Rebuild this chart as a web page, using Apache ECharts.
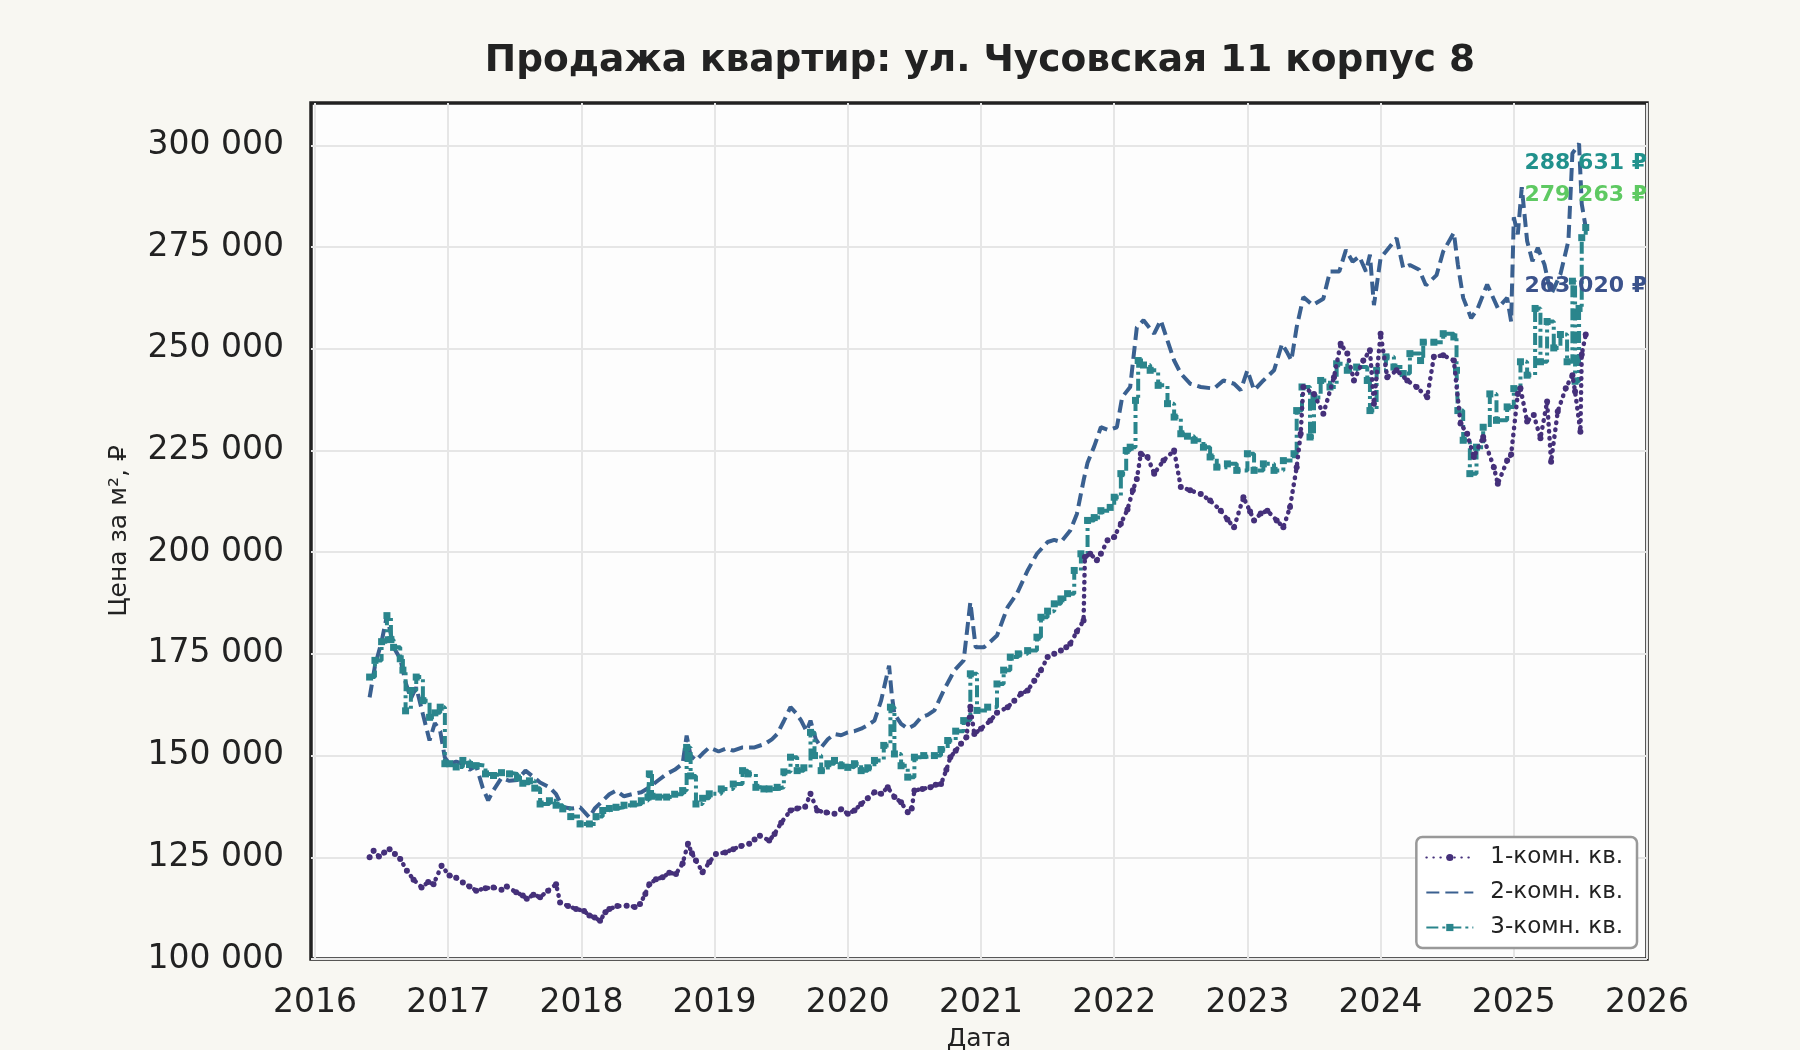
<!DOCTYPE html>
<html>
<head>
<meta charset="utf-8">
<title>Продажа квартир</title>
<script src="https://cdn.jsdelivr.net/npm/echarts@6/dist/echarts.min.js"></script>
<style>
  html, body { margin: 0; padding: 0; background: #f8f7f2; }
  #chart { width: 1800px; height: 1050px; }
</style>
</head>
<body>
<div id="chart"></div>
<script>
// x values are dates written as decimal years
var years1 = [2016.41,2016.44,2016.48,2016.52,2016.56,2016.60,2016.64,2016.69,2016.74,2016.80,2016.85,2016.89,2016.95,
  2017.01,2017.06,2017.11,2017.16,2017.21,2017.28,2017.34,2017.40,2017.44,2017.51,2017.56,2017.59,2017.64,2017.69,2017.75,2017.81,2017.84,2017.90,2017.96,
  2018.02,2018.06,2018.10,2018.14,2018.18,2018.21,2018.27,2018.34,2018.40,2018.44,2018.48,2018.51,2018.56,2018.61,2018.66,2018.71,2018.76,2018.80,2018.83,2018.86,2018.91,2018.96,
  2019.01,2019.08,2019.14,2019.20,2019.26,2019.30,2019.34,2019.41,2019.45,2019.50,2019.57,2019.62,2019.68,2019.72,2019.77,2019.84,2019.90,2019.95,
  2020.00,2020.05,2020.10,2020.15,2020.20,2020.25,2020.30,2020.35,2020.40,2020.45,2020.48,2020.50,2020.56,2020.62,2020.66,2020.70,2020.74,2020.77,2020.81,2020.85,2020.89,2020.92,2020.95,
  2021.00,2021.07,2021.12,2021.20,2021.25,2021.30,2021.35,2021.40,2021.45,2021.50,2021.55,2021.60,2021.64,2021.67,2021.72,2021.77,2021.78,2021.82,2021.87,2021.90,2021.95,
  2022.00,2022.05,2022.10,2022.14,2022.17,2022.20,2022.25,2022.30,2022.37,2022.45,2022.50,2022.57,2022.65,2022.72,2022.80,2022.85,2022.90,2022.97,
  2023.02,2023.05,2023.10,2023.15,2023.22,2023.27,2023.32,2023.37,2023.40,2023.42,2023.50,2023.57,2023.65,2023.70,2023.75,2023.80,2023.87,2023.92,2023.95,
  2024.00,2024.05,2024.12,2024.20,2024.27,2024.35,2024.40,2024.47,2024.55,2024.60,2024.65,2024.70,2024.77,2024.85,2024.88,2024.95,2024.98,
  2025.03,2025.05,2025.10,2025.15,2025.20,2025.25,2025.28,2025.33,2025.39,2025.44,2025.46,2025.50,2025.51,2025.54];
var price1 = [125000,126600,125200,126200,127000,125800,124600,121700,119500,117600,118900,118400,122900,
  120500,120000,118800,117800,116800,117400,117600,117000,117800,116400,115600,114800,115800,115200,116800,118400,113900,113000,112300,
  111800,110700,110200,109400,111500,112300,113000,113100,112800,113500,116000,118400,119600,120100,121200,120900,123500,128300,126000,124200,121300,123800,
  125800,126200,127000,127800,128300,129400,130300,129100,130700,133500,136500,137000,137400,140600,136500,136000,135700,136800,
  135700,136500,138100,139500,141000,140600,142200,139800,138500,136100,137000,141400,141800,142200,142800,143000,146500,149600,151200,152900,154500,162000,155300,
  156600,158600,160500,161900,163500,165200,166000,168400,171000,174200,175000,175800,176600,177500,180500,183200,198800,199600,198000,199600,202900,
  203700,207000,210500,215200,218000,224200,223400,219300,222500,225000,216000,215200,214300,212700,210200,208000,206100,213500,
  210000,207800,209500,210200,207800,206100,211100,220900,229100,240600,238900,234000,243000,251200,248800,242200,247100,249600,236500,
  253700,243000,244700,242200,240600,238100,248000,248400,247100,231600,229100,223400,228300,220900,216800,222500,224000,
  238900,240300,232100,233700,228000,237000,222200,234600,240300,243500,239500,229600,248600,253500];

var years2 = [2016.41,2016.45,2016.50,2016.54,2016.59,2016.64,2016.68,2016.72,2016.76,2016.81,2016.86,2016.90,2016.94,2016.975,
  2017.01,2017.06,2017.11,2017.16,2017.21,2017.26,2017.30,2017.34,2017.40,2017.46,2017.52,2017.58,2017.63,2017.69,2017.76,2017.81,2017.86,2017.93,2017.99,
  2018.06,2018.10,2018.16,2018.21,2018.26,2018.32,2018.39,2018.45,2018.51,2018.58,2018.64,2018.70,2018.76,2018.79,2018.82,2018.86,2018.91,2018.96,
  2019.03,2019.09,2019.14,2019.21,2019.30,2019.38,2019.43,2019.47,2019.52,2019.57,2019.61,2019.65,2019.69,2019.72,2019.76,2019.80,2019.85,2019.90,2019.95,
  2020.00,2020.05,2020.10,2020.15,2020.20,2020.25,2020.31,2020.33,2020.35,2020.40,2020.45,2020.50,2020.55,2020.60,2020.65,2020.72,2020.80,2020.87,2020.92,2020.96,
  2021.02,2021.07,2021.12,2021.16,2021.20,2021.27,2021.35,2021.42,2021.50,2021.55,2021.60,2021.67,2021.72,2021.77,2021.80,2021.85,2021.90,2021.96,
  2022.02,2022.06,2022.12,2022.17,2022.22,2022.30,2022.35,2022.40,2022.45,2022.50,2022.57,2022.65,2022.75,2022.82,2022.90,2022.95,
  2023.00,2023.05,2023.12,2023.20,2023.26,2023.30,2023.33,2023.37,2023.42,2023.49,2023.57,2023.62,2023.69,2023.74,2023.79,2023.84,2023.89,2023.92,2023.95,
  2024.00,2024.04,2024.12,2024.17,2024.22,2024.29,2024.34,2024.42,2024.47,2024.55,2024.58,2024.62,2024.68,2024.73,2024.80,2024.88,2024.95,2024.98,
  2025.00,2025.03,2025.06,2025.10,2025.14,2025.18,2025.23,2025.28,2025.35,2025.41,2025.44,2025.49,2025.51,2025.54];
var price2 = [164300,172000,178000,184400,176600,173800,168000,164000,166800,160200,153700,158000,156000,149500,
  148000,148500,148000,146500,147500,142000,139000,141500,144500,143800,144000,146300,145000,143400,142200,140500,137300,137000,137300,
  134800,137000,138900,140500,141400,140000,140600,141000,142200,144000,145500,146500,148000,154900,150000,148800,150500,152000,
  151000,151800,151200,152000,152000,152900,154000,155300,158500,161900,160500,158600,156000,158600,154000,152000,154000,155300,155000,
  155700,156000,156600,157500,158600,163500,172100,165000,160200,157800,156600,157500,159400,160000,161100,166000,170900,173400,187700,176600,
  176600,178000,179500,183000,186500,189800,195500,199600,202500,203000,202500,205300,209400,217600,222000,226000,230700,230000,
  230700,238100,240600,255300,257000,253700,257000,252000,247100,243900,241400,240600,240200,242200,241400,239800,
  244700,239800,242200,244700,251200,249000,247100,255300,262700,260700,262300,269000,269000,274300,271400,272700,269000,273100,260700,
  272300,273900,277200,269800,270600,269400,265600,268100,273900,278500,270700,262500,257500,260000,265800,260000,262500,256700,
  282300,278100,289700,276500,271500,274800,270700,263300,268300,276500,298000,300400,285600,279800];

var years3 = [2016.41,2016.45,2016.50,2016.54,2016.57,2016.59,2016.64,2016.66,2016.68,2016.72,2016.76,2016.81,2016.86,2016.90,2016.94,2016.975,
  2017.01,2017.06,2017.11,2017.16,2017.21,2017.28,2017.34,2017.40,2017.46,2017.52,2017.56,2017.61,2017.65,2017.69,2017.76,2017.81,2017.86,2017.92,2017.99,
  2018.06,2018.11,2018.16,2018.21,2018.26,2018.32,2018.39,2018.45,2018.50,2018.51,2018.53,2018.58,2018.64,2018.70,2018.76,2018.79,2018.82,2018.86,2018.91,2018.96,
  2019.05,2019.14,2019.21,2019.25,2019.31,2019.37,2019.41,2019.47,2019.52,2019.57,2019.62,2019.67,2019.72,2019.75,2019.80,2019.85,2019.90,2019.95,
  2020.00,2020.05,2020.10,2020.15,2020.20,2020.27,2020.32,2020.35,2020.40,2020.45,2020.50,2020.57,2020.65,2020.70,2020.75,2020.81,2020.87,2020.92,2020.97,
  2021.05,2021.12,2021.17,2021.22,2021.28,2021.35,2021.42,2021.45,2021.50,2021.55,2021.60,2021.65,2021.70,2021.75,2021.80,2021.85,2021.90,2021.97,
  2022.00,2022.05,2022.09,2022.12,2022.16,2022.18,2022.22,2022.27,2022.33,2022.40,2022.45,2022.50,2022.55,2022.60,2022.67,2022.72,2022.77,2022.85,2022.92,
  2023.00,2023.05,2023.12,2023.20,2023.27,2023.35,2023.37,2023.41,2023.47,2023.50,2023.55,2023.62,2023.67,2023.75,2023.82,2023.90,2023.92,2023.97,
  2024.04,2024.10,2024.17,2024.22,2024.30,2024.32,2024.40,2024.47,2024.55,2024.57,2024.58,2024.62,2024.67,2024.72,2024.77,2024.82,2024.87,2024.95,
  2025.00,2025.05,2025.10,2025.16,2025.20,2025.25,2025.30,2025.35,2025.40,2025.44,2025.46,2025.49,2025.51,2025.54];
var price3 = [169300,173400,178000,184400,178500,176600,173800,171000,161000,166000,169300,163500,159400,160500,161900,148000,
  148000,147200,148800,147800,147500,145500,145100,145800,145500,144500,143200,143800,142000,138100,138900,137800,136900,135000,133200,
  133200,135000,136500,137000,137300,137800,138100,138900,139800,145500,140000,139800,139800,140500,141400,152000,145000,138100,139500,140600,
  141800,143000,146300,145500,142200,141800,141800,142200,146000,149600,146300,147000,155700,150000,146300,148000,148800,147500,
  147100,148000,146300,147000,148800,152500,161900,150400,147500,144700,149600,150000,150000,151500,153700,156000,158600,170100,161100,
  161900,167600,171000,174200,175000,175800,179100,184000,185500,187300,188500,189800,195500,199600,207800,208500,210200,211000,
  213500,219300,225000,225800,237300,247100,246000,244700,241000,236500,233200,229100,228500,227500,225800,223400,220900,221700,220100,
  224200,220100,221700,220100,222500,224200,234800,240600,228300,238000,242200,240600,246300,244700,245500,242200,234800,244700,
  248000,245500,243900,248800,247100,251600,251600,253700,252900,244700,234800,227500,219300,225800,230700,238900,232400,235700,
  240200,246800,243500,259900,246800,256700,250200,253500,246800,266600,242000,259900,277300,279800];

var seriesNames = ['1-комн. кв.', '2-комн. кв.', '3-комн. кв.'];
var lastLabels = [263020, 288631, 279263];
var yearTicks = [2016, 2017, 2018, 2019, 2020, 2021, 2022, 2023, 2024, 2025, 2026];
var priceTicks = [100000, 125000, 150000, 175000, 200000, 225000, 250000, 275000, 300000];

function fmt(v) {
  return String(Math.round(v)).replace(/\B(?=(\d{3})+(?!\d))/g, ' ');
}
function pairs(xs, ys) {
  return xs.map(function (x, i) { return [x, ys[i]]; });
}
function lastMark(xs, value, color, dy) {
  return {
    symbol: 'circle',
    symbolSize: 0,
    silent: true,
    data: [{ coord: [xs[xs.length - 1], value], value: value }],
    label: {
      show: true,
      position: 'inside',
      offset: [0, dy],
      formatter: function (p) { return fmt(p.value) + ' ₽'; },
      color: color,
      fontSize: 22,
      fontWeight: 'bold',
      fontFamily: 'DejaVu Sans'
    }
  };
}

var chart = echarts.init(document.getElementById('chart'), null, { renderer: 'canvas' });

var option = {
  backgroundColor: '#f8f7f2',
  animation: false,
  textStyle: { fontFamily: 'DejaVu Sans', color: '#222' },
  title: {
    text: 'Продажа квартир: ул. Чусовская 11 корпус 8',
    left: 975,
    top: 37,
    textAlign: 'center',
    textStyle: { fontSize: 37.5, fontWeight: 'bold', color: '#222', fontFamily: 'DejaVu Sans' }
  },
  grid: {
    left: 311, right: 153, top: 103, bottom: 91,
    outerBoundsMode: 'none',
    containLabel: false,
    show: true,
    backgroundColor: '#fdfdfd',
    borderColor: '#222',
    borderWidth: 3.5
  },
  legend: {
    orient: 'vertical',
    right: 163,
    bottom: 102,
    padding: [9, 14, 9, 9],
    itemWidth: 47,
    itemHeight: 9,
    itemGap: 12,
    backgroundColor: '#ffffff',
    borderColor: '#999',
    borderWidth: 2.5,
    borderRadius: 6,
    textStyle: { fontSize: 23, color: '#222', padding: [0, 0, 0, 12] },
    data: [
      { name: seriesNames[0] },
      { name: seriesNames[1], itemStyle: { opacity: 0 } },
      { name: seriesNames[2] }
    ]
  },
  xAxis: {
    type: 'value',
    min: 2015.97,
    max: 2026,
    name: 'Дата',
    nameLocation: 'middle',
    nameGap: 68,
    nameTextStyle: { fontSize: 25, color: '#222' },
    axisLine: { show: false },
    axisTick: { show: false, customValues: yearTicks },
    axisLabel: {
      customValues: yearTicks,
      fontSize: 33,
      color: '#222',
      margin: 28,
      formatter: function (v) { return String(Math.round(v)); }
    },
    splitLine: { show: true, lineStyle: { color: '#e6e6e6', width: 2 } }
  },
  yAxis: {
    type: 'value',
    min: 100000,
    max: 310400,
    name: 'Цена за м², ₽',
    nameLocation: 'middle',
    nameRotate: 90,
    nameGap: 179,
    nameTextStyle: { fontSize: 25, color: '#222' },
    axisLine: { show: false },
    axisTick: { show: false, customValues: priceTicks },
    axisLabel: {
      customValues: priceTicks,
      fontSize: 33,
      color: '#222',
      margin: 27,
      padding: [11, 0, 0, 0],
      formatter: fmt
    },
    splitLine: { show: true, lineStyle: { color: '#e6e6e6', width: 2 } }
  },
  series: [
    {
      name: seriesNames[0],
      type: 'line',
      data: pairs(years1, price1),
      symbol: 'circle',
      symbolSize: 6,
      showSymbol: true,
      showAllSymbol: true,
      itemStyle: { color: '#45307a' },
      lineStyle: { color: '#45307a', width: 4.5, type: [0.5, 6.5], cap: 'round' },
      z: 3,
      markPoint: lastMark(years1, lastLabels[0], '#3b528b', -9.5)
    },
    {
      name: seriesNames[1],
      type: 'line',
      data: pairs(years2, price2),
      symbol: 'none',
      itemStyle: { color: '#3a6090' },
      lineStyle: { color: '#3a6090', width: 4, type: [13, 6] },
      z: 2,
      markPoint: lastMark(years2, lastLabels[1], '#21918c', -28.5)
    },
    {
      name: seriesNames[2],
      type: 'line',
      step: 'end',
      data: pairs(years3, price3),
      symbol: 'rect',
      symbolSize: 7,
      showSymbol: true,
      showAllSymbol: true,
      itemStyle: { color: '#2a858c' },
      lineStyle: { color: '#2a858c', width: 4, type: [12, 4, 3, 4] },
      z: 2,
      markPoint: lastMark(years3, lastLabels[2], '#5ec962', -34.5)
    }
  ]
};

chart.setOption(option);
</script>
</body>
</html>
